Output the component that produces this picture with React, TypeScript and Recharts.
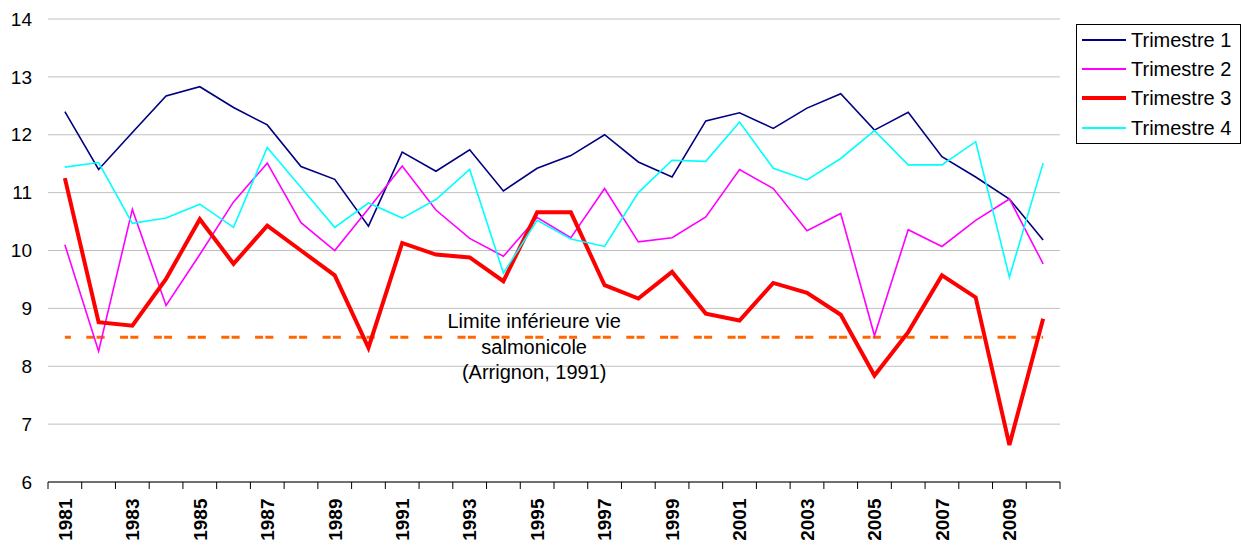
import React from 'react';
import { ComposedChart, Line, XAxis, YAxis, CartesianGrid, ReferenceLine } from 'recharts';

const YEARS = [
  1981, 1982, 1983, 1984, 1985, 1986, 1987, 1988, 1989, 1990,
  1991, 1992, 1993, 1994, 1995, 1996, 1997, 1998, 1999, 2000,
  2001, 2002, 2003, 2004, 2005, 2006, 2007, 2008, 2009, 2010,
];
const T1 = [12.40, 11.40, 12.04, 12.67, 12.83, 12.47, 12.17, 11.45, 11.23, 10.42, 11.70, 11.37, 11.74, 11.03, 11.42, 11.64, 12.00, 11.53, 11.27, 12.24, 12.38, 12.11, 12.46, 12.71, 12.08, 12.39, 11.62, 11.27, 10.89, 10.18];
const T2 = [10.10, 8.26, 10.71, 9.05, 9.93, 10.84, 11.51, 10.48, 10.00, 10.72, 11.46, 10.70, 10.21, 9.90, 10.57, 10.22, 11.07, 10.15, 10.22, 10.58, 11.40, 11.07, 10.34, 10.64, 8.53, 10.36, 10.07, 10.52, 10.89, 9.77];
const T3 = [11.25, 8.76, 8.70, 9.51, 10.54, 9.77, 10.43, 10.00, 9.57, 8.32, 10.13, 9.93, 9.88, 9.47, 10.66, 10.66, 9.40, 9.17, 9.63, 8.91, 8.79, 9.44, 9.27, 8.89, 7.84, 8.59, 9.57, 9.19, 6.64, 8.82];
const T4 = [11.44, 11.52, 10.47, 10.56, 10.80, 10.40, 11.78, 11.09, 10.40, 10.82, 10.56, 10.88, 11.40, 9.61, 10.52, 10.20, 10.07, 11.00, 11.56, 11.54, 12.22, 11.42, 11.22, 11.59, 12.07, 11.48, 11.48, 11.88, 9.54, 11.51];
const LIMIT = 8.5;
const Y_TICKS = [6, 7, 8, 9, 10, 11, 12, 13, 14];
const ANNOTATION = ['Limite inférieure vie', 'salmonicole', '(Arrignon, 1991)'];

const SERIES = [
  { key: 't1', name: 'Trimestre 1', color: '#000080', width: 1.6 },
  { key: 't2', name: 'Trimestre 2', color: '#FF00FF', width: 1.6 },
  { key: 't3', name: 'Trimestre 3', color: '#FF0000', width: 4 },
  { key: 't4', name: 'Trimestre 4', color: '#00FFFF', width: 1.6 },
];

const data = YEARS.map((y, i) => ({
  year: String(y),
  t1: T1[i],
  t2: T2[i],
  t3: T3[i],
  t4: T4[i],
  limit: LIMIT,
}));

const FONT = '"Liberation Sans", Arial, sans-serif';
const W = 1250;
const H = 544;
const MARGIN = { top: 19, right: 190, bottom: 0, left: 0 };
const Y_AXIS_W = 48;
const PLOT_W = W - MARGIN.left - MARGIN.right - Y_AXIS_W;
const HALF_BAND = PLOT_W / YEARS.length / 2;

const XTick = (props: any) => {
  const { x, y, payload, index } = props;
  const showLabel = index % 2 === 0;
  const last = index === YEARS.length - 1;
  return (
    <g>
      <line x1={x - HALF_BAND} y1={y} x2={x - HALF_BAND} y2={y + 7} stroke="#000" strokeWidth={1} />
      {last && <line x1={x + HALF_BAND} y1={y} x2={x + HALF_BAND} y2={y + 7} stroke="#000" strokeWidth={1} />}
      {showLabel && (
        <text
          x={x}
          y={y + 16.5}
          transform={`rotate(-90 ${x} ${y + 16.5})`}
          textAnchor="end"
          dy="0.36em"
          fontFamily={FONT}
          fontWeight="bold"
          fontSize={19}
          fill="#000"
        >
          {payload.value}
        </text>
      )}
    </g>
  );
};

const Annotation = (props: any) => {
  const vb = props.viewBox || {};
  const cx = vb.x + vb.width * 0.4804;
  const cy = vb.y;
  const offsets = [-9, 16.5, 42];
  return (
    <g>
      {ANNOTATION.map((t, i) => (
        <text key={i} x={cx} y={cy + offsets[i]} textAnchor="middle" fontFamily={FONT} fontSize={20} fill="#000">
          {t}
        </text>
      ))}
    </g>
  );
};

export default function App() {
  return (
    <div style={{ position: 'absolute', left: 0, top: 0, width: W, height: H, overflow: 'hidden', background: '#fff' }}>
      <ComposedChart width={W} height={H} data={data} margin={MARGIN}>
        <CartesianGrid vertical={false} stroke="#C0C0C0" strokeWidth={1} />
        <XAxis
          dataKey="year"
          interval={0}
          height={62}
          padding={{ left: HALF_BAND, right: HALF_BAND }}
          tickLine={false}
          tickSize={0}
          tickMargin={0}
          axisLine={{ stroke: '#000', strokeWidth: 1 }}
          tick={<XTick />}
        />
        <YAxis
          domain={[6, 14]}
          ticks={Y_TICKS}
          width={Y_AXIS_W}
          axisLine={false}
          tickLine={false}
          tickMargin={10}
          tick={{ fontFamily: FONT, fontSize: 19, fill: '#000' }}
        />
        <Line
          dataKey="limit"
          stroke="#FF6600"
          strokeWidth={3}
          strokeDasharray="8 2.3 8 15.45"
          strokeDashoffset={12.3}
          dot={false}
          activeDot={false}
          isAnimationActive={false}
        />
        {SERIES.map((s) => (
          <Line
            key={s.key}
            dataKey={s.key}
            name={s.name}
            stroke={s.color}
            strokeWidth={s.width}
            dot={false}
            activeDot={false}
            isAnimationActive={false}
          />
        ))}
        <ReferenceLine y={LIMIT} stroke="none" strokeOpacity={0} label={(p: any) => <Annotation {...p} />} />
      </ComposedChart>
      <div
        style={{
          position: 'absolute',
          left: 1076,
          top: 24,
          width: 163,
          height: 118,
          border: '1px solid #000',
          background: '#fff',
          fontFamily: FONT,
          fontSize: 20,
          paddingTop: 0,
          boxSizing: 'content-box',
        }}
      >
        {SERIES.map((s) => (
          <div key={s.key} style={{ display: 'flex', alignItems: 'center', height: 29.3 }}>
            <div style={{ marginLeft: 5, width: 44, height: s.width > 2 ? 4 : 2, background: s.color }} />
            <span style={{ marginLeft: 5, lineHeight: '20px', whiteSpace: 'nowrap' }}>{s.name}</span>
          </div>
        ))}
      </div>
    </div>
  );
}
